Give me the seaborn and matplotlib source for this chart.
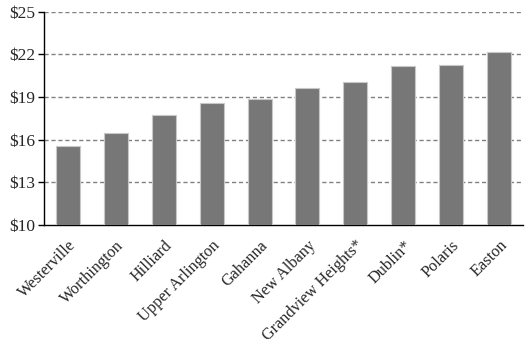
import matplotlib
matplotlib.use("Agg")
import matplotlib.pyplot as plt
import seaborn as sns
import pandas as pd

cities = ["Westerville", "Worthington", "Hilliard", "Upper Arlington", "Gahanna",
          "New Albany", "Grandview Heights*", "Dublin*", "Polaris", "Easton"]
values = [15.55, 16.5, 17.75, 18.55, 18.85, 19.62, 20.04, 21.15, 21.27, 22.14]
yticks = [10, 13, 16, 19, 22, 25]

sns.set_style("white")
plt.rcParams["font.family"] = ["Liberation Serif", "DejaVu Serif"]

df = pd.DataFrame({"city": cities, "value": values})

fig = plt.figure(figsize=(5.29, 3.44), dpi=100)
ax = fig.add_axes([44/529, 1 - 225/344, (523-44)/529, (225-11.7)/344])

sns.barplot(data=df, x="city", y="value", color="#777777", width=0.5,
            edgecolor="#c8c8c8", linewidth=0.8, saturation=1, ax=ax, zorder=3)

ax.set_ylim(10, 25)
ax.set_xlim(-0.5, len(cities) - 0.5)
ax.set_yticks(yticks)
ax.set_yticklabels([f"${v}" for v in yticks], fontsize=12.5)
for v in yticks[1:]:
    ax.axhline(v, color="#808080", linestyle=(0, (3, 2)), linewidth=1.0, zorder=1)

# category labels at centers, tick marks at boundaries
ax.set_xticks(range(len(cities)))
ax.set_xticklabels(cities, rotation=45, ha="right", rotation_mode="anchor", fontsize=11.7)
ax.tick_params(axis="x", which="major", length=0, pad=9)
ax.set_xticks([i - 0.5 for i in range(len(cities) + 1)], minor=True)
ax.tick_params(axis="x", which="minor", length=5, width=1, color="black", direction="out")
ax.tick_params(axis="y", length=4, width=1, color="black", direction="out", pad=2, left=True)

ax.set_xlabel("")
ax.set_ylabel("")
for s in ["top", "right"]:
    ax.spines[s].set_visible(False)
for s in ["left", "bottom"]:
    ax.spines[s].set_color("black")
    ax.spines[s].set_linewidth(1.0)

fig.savefig("out.png", dpi=100)
